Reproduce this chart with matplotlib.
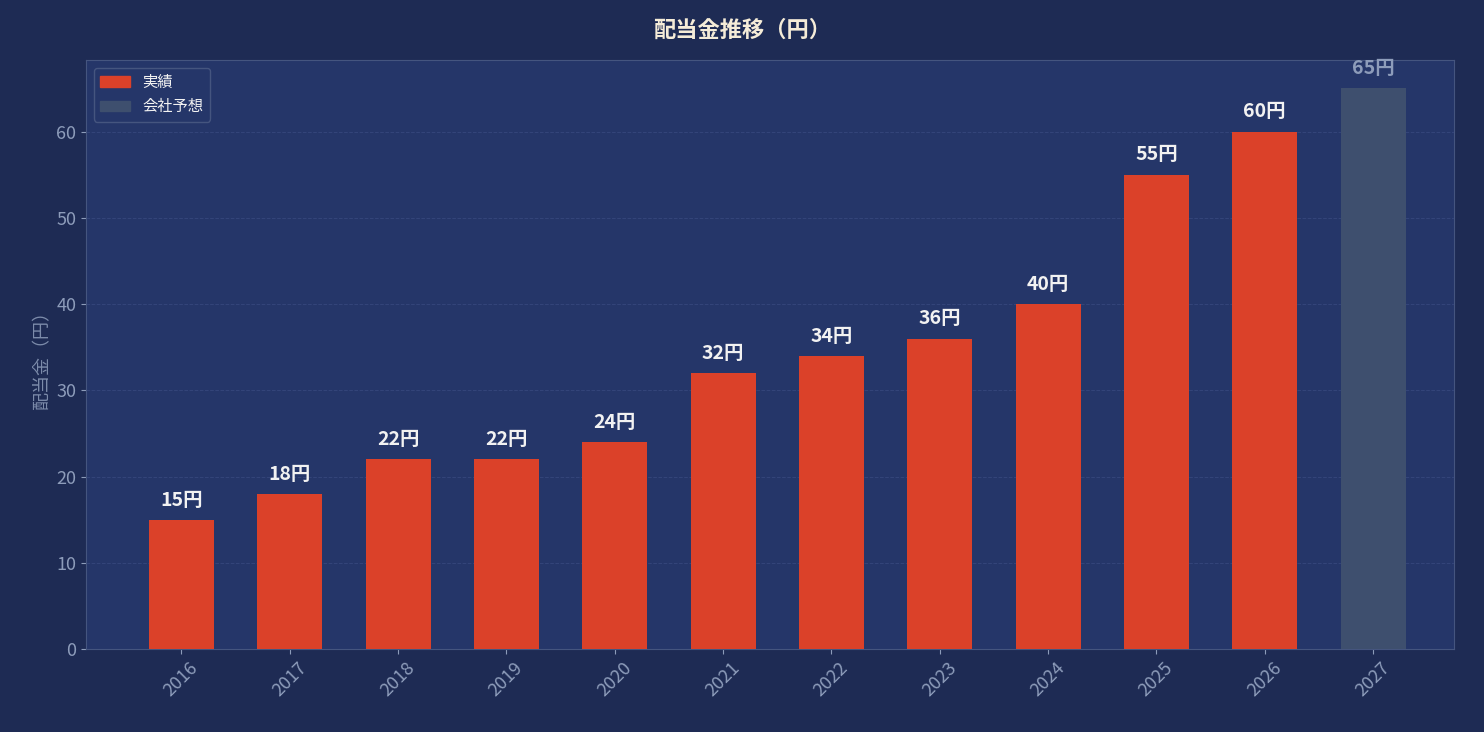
import matplotlib

matplotlib.use("Agg")

import matplotlib.pyplot as plt
from matplotlib.patches import Patch

plt.rcParams["font.family"] = ["Noto Sans CJK JP", "DejaVu Sans"]

years = ["2016", "2017", "2018", "2019", "2020", "2021", "2022", "2023", "2024", "2025", "2026", "2027"]
dividends = [15, 18, 22, 22, 24, 32, 34, 36, 40, 55, 60, 65]
is_forecast = [False] * 11 + [True]

RED = "#db4129"
FORECAST = "#3e4f6e"
FIG_BG = "#1e2b54"
AX_BG = "#253669"
TICK = "#8d9cba"

fig = plt.figure(figsize=(14.84, 7.32), dpi=100, facecolor=FIG_BG)
ax = fig.add_axes([0.058, 0.113, 0.922, 0.805], facecolor=AX_BG)

x = range(len(years))
colors = [FORECAST if f else RED for f in is_forecast]
ax.bar(x, dividends, width=0.6, color=colors, zorder=3)

for i, v in enumerate(dividends):
    ax.text(i, v + 1.2, f"{v}円", ha="center", va="bottom", fontsize=14, fontweight="bold",
            color="#8d9cba" if is_forecast[i] else "#f2f2f2", zorder=4)

ax.set_xlim(-0.88, 11.75)
ax.set_ylim(0, 68.3)
ax.set_xticks(list(x))
ax.set_xticklabels(years, rotation=45, fontsize=13, color=TICK)
ax.set_yticks(range(0, 61, 10))
ax.tick_params(axis="y", labelsize=13, colors=TICK)
ax.tick_params(axis="x", colors=TICK)
ax.grid(axis="y", color="#34457a", linestyle="--", linewidth=0.7, zorder=0)
for s in ax.spines.values():
    s.set_color("#45557f")

ax.set_ylabel("配当金（円）", fontsize=13, color="#7d8cab")
fig.suptitle("配当金推移（円）", fontsize=16, fontweight="bold", color="#f5ecd8", y=0.975)

handles = [Patch(color=RED, label="実績"), Patch(color=FORECAST, label="会社予想")]
leg = ax.legend(handles=handles, loc="upper left", fontsize=11, facecolor=AX_BG,
                edgecolor="#45557f", labelcolor="#f2f2f2", framealpha=1)

fig.savefig("out.png", dpi=100, facecolor=FIG_BG)
